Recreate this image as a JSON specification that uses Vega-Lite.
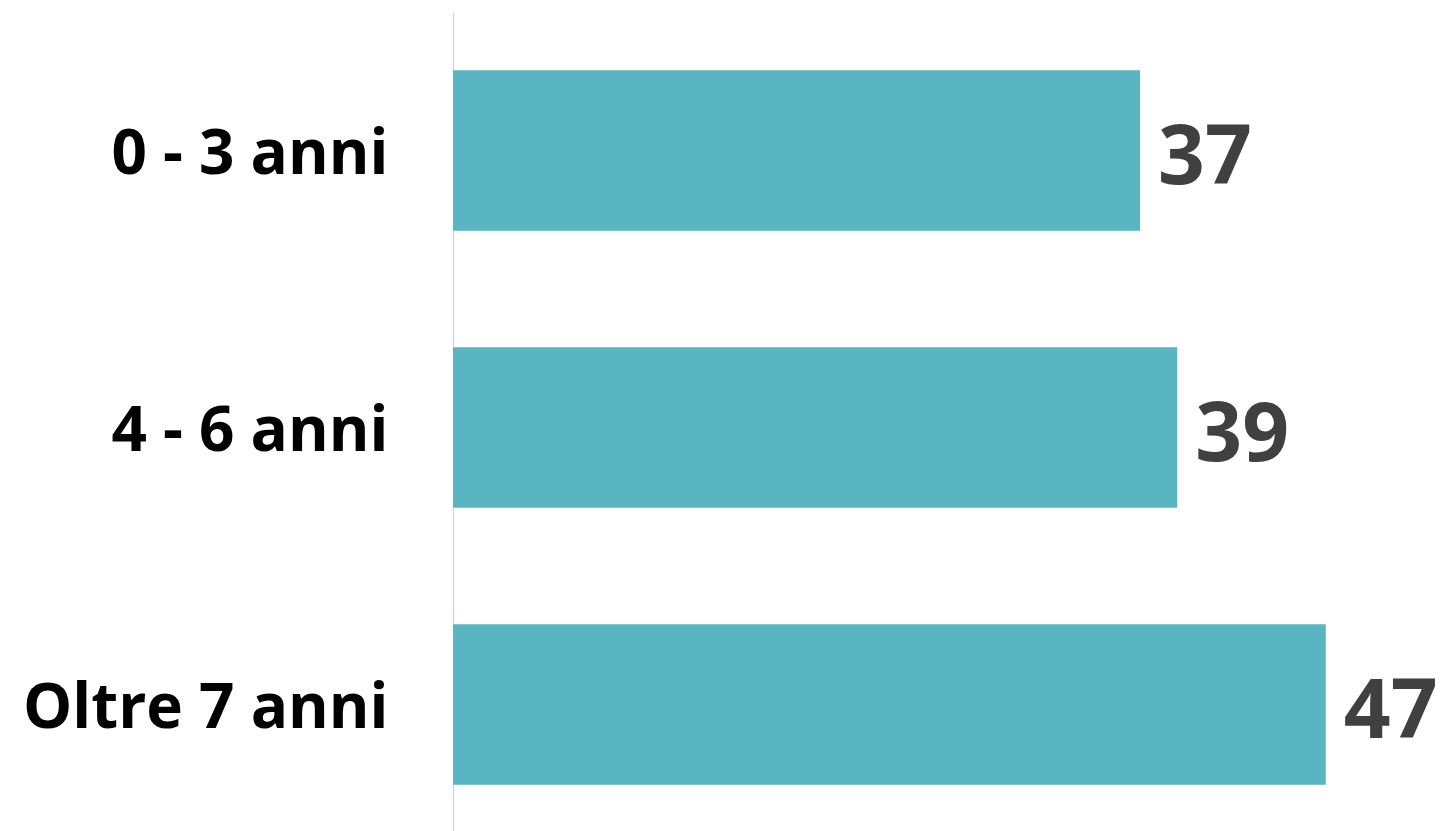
{
  "$schema": "https://vega.github.io/schema/vega-lite/v6.json",
  "autosize": {"type": "none"},
  "padding": {"left": 453, "top": 12, "right": 0, "bottom": 0},
  "width": 995,
  "height": 819,
  "background": "white",
  "config": {"view": {"stroke": null}},
  "data": {"values": [
    {"categoria": "0 - 3 anni", "valore": 37},
    {"categoria": "4 - 6 anni", "valore": 39},
    {"categoria": "Oltre 7 anni", "valore": 47}
  ]},
  "encoding": {
    "y": {
      "field": "categoria",
      "type": "nominal",
      "sort": null,
      "scale": {"range": [0, 831], "paddingInner": 0.42, "paddingOuter": 0.21},
      "axis": {
        "title": null,
        "ticks": false,
        "domain": true,
        "domainColor": "#d9d9d9",
        "domainWidth": 1.5,
        "labelFont": "Open Sans",
        "labelFontWeight": "bold",
        "labelFontSize": 62,
        "labelColor": "#000000",
        "labelPadding": 65,
        "labelBaseline": "alphabetic",
        "labelOffset": 23,
        "labelLimit": 500
      }
    },
    "x": {
      "field": "valore",
      "type": "quantitative",
      "scale": {"domain": [0, 53.58], "nice": false},
      "axis": null
    }
  },
  "layer": [
    {"mark": {"type": "bar", "color": "#59B5C1"}},
    {
      "mark": {
        "type": "text",
        "align": "left",
        "baseline": "alphabetic",
        "dx": 18,
        "dy": 33,
        "font": "Open Sans",
        "fontWeight": "bold",
        "fontSize": 82,
        "color": "#404040"
      },
      "encoding": {"text": {"field": "valore", "type": "quantitative"}}
    }
  ]
}
